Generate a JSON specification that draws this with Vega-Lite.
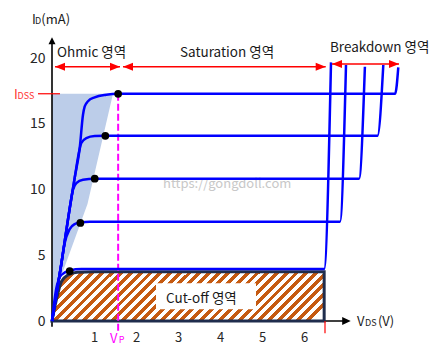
{
"$schema":"https://vega.github.io/schema/vega-lite/v6.json",
"width":378,"height":310,
"autosize":{"type":"none"},
"padding":{"left":52,"top":11,"right":18,"bottom":30},
"background":"#ffffff",
"config":{"view":{"stroke":null},"font":"Noto Sans CJK KR"},
"datasets":{
"hatch":[{"x":0,"y":17.3,"y2":0},{"x":0.143,"y":17.3,"y2":2.74},{"x":0.845,"y":17.3,"y2":8.9},{"x":1.452,"y":17.3,"y2":17.3}],
"cut":[{"x":0,"y":0},{"x":0.103,"y":1.6},{"x":0.222,"y":2.99},{"x":0.381,"y":3.5},{"x":0.6,"y":3.72},{"x":1.0,"y":3.75},{"x":6.48,"y":3.75}],
"box":[{"x":2.476,"x2":4.857,"y":2.87,"y2":0.89}],
"curves":[
{"s":"c1","x":0,"y":0},{"s":"c1","x":0.22,"y":4.3},{"s":"c1","x":0.42,"y":8.55},{"s":"c1","x":0.54,"y":10.89},{"s":"c1","x":0.66,"y":13.17},{"s":"c1","x":0.738,"y":15.7},{"s":"c1","x":0.779,"y":16.34},{"s":"c1","x":0.857,"y":16.73},{"s":"c1","x":1.017,"y":17.03},{"s":"c1","x":1.293,"y":17.23},{"s":"c1","x":1.575,"y":17.3},{"s":"c1","x":8.17,"y":17.3},{"s":"c1","x":8.245,"y":19.31},
{"s":"c2","x":0,"y":0},{"s":"c2","x":0.22,"y":4.3},{"s":"c2","x":0.42,"y":8.55},{"s":"c2","x":0.54,"y":10.89},{"s":"c2","x":0.64,"y":12.8},{"s":"c2","x":0.698,"y":13.55},{"s":"c2","x":0.817,"y":13.93},{"s":"c2","x":1.017,"y":14.08},{"s":"c2","x":1.27,"y":14.1},{"s":"c2","x":7.75,"y":14.1},{"s":"c2","x":7.888,"y":19.49},
{"s":"c3","x":0,"y":0},{"s":"c3","x":0.22,"y":4.3},{"s":"c3","x":0.42,"y":8.55},{"s":"c3","x":0.5,"y":10.0},{"s":"c3","x":0.579,"y":10.5},{"s":"c3","x":0.738,"y":10.76},{"s":"c3","x":1.017,"y":10.83},{"s":"c3","x":7.31,"y":10.83},{"s":"c3","x":7.45,"y":19.36},
{"s":"c4","x":0,"y":0},{"s":"c4","x":0.22,"y":4.3},{"s":"c4","x":0.3,"y":5.9},{"s":"c4","x":0.421,"y":7.0},{"s":"c4","x":0.54,"y":7.38},{"s":"c4","x":0.675,"y":7.5},{"s":"c4","x":0.9,"y":7.56},{"s":"c4","x":6.857,"y":7.56},{"s":"c4","x":7.0,"y":19.49},
{"s":"c5","x":0,"y":0},{"s":"c5","x":0.103,"y":2.5},{"s":"c5","x":0.16,"y":3.15},{"s":"c5","x":0.222,"y":3.5},{"s":"c5","x":0.421,"y":3.85},{"s":"c5","x":0.7,"y":3.96},{"s":"c5","x":6.48,"y":3.96},{"s":"c5","x":6.643,"y":19.69}
],
"dots":[{"x":1.575,"y":17.3},{"x":1.27,"y":14.1},{"x":1.017,"y":10.83},{"x":0.675,"y":7.47},{"x":0.421,"y":3.8}],
"rules":[
{"g":"axis","x":0,"y":-0.43,"x2":0,"y2":21.2},
{"g":"axis","x":0,"y":0,"x2":7.0,"y2":0},
{"g":"red","x":0.071,"y":19.36,"x2":1.619,"y2":19.36},
{"g":"red","x":1.69,"y":19.36,"x2":6.517,"y2":19.36},
{"g":"red","x":6.667,"y":19.56,"x2":8.262,"y2":19.56},
{"g":"thin","x":-0.333,"y":17.3,"x2":0.19,"y2":17.3},
{"g":"thin","x":6.5,"y":0,"x2":6.5,"y2":-0.94},
{"g":"vp","x":1.575,"y":17.3,"x2":1.575,"y2":-0.9}
],
"heads":[
{"g":"L","x":0.071,"y":19.36},{"g":"R","x":1.619,"y":19.36},{"g":"L","x":1.69,"y":19.36},{"g":"R","x":6.517,"y":19.36},{"g":"L","x":6.667,"y":19.56},{"g":"R","x":8.262,"y":19.56},{"g":"U","x":0,"y":21.6},{"g":"K","x":7.112,"y":0}
],
"texts":[
{"g":"lab","c":"k","t":"Ohmic  영역","x":0.119,"y":20.12},
{"g":"lab","c":"k","t":"Saturation 영역","x":3.048,"y":20.12},
{"g":"lab","c":"k","t":"Breakdown 영역","x":6.619,"y":20.46},
{"g":"lab","c":"k","t":"Cut-off 영역","x":2.714,"y":1.35},
{"g":"big","c":"k","t":"I","x":-0.476,"y":22.61},
{"g":"sub","c":"k","t":"D","x":-0.405,"y":22.61},
{"g":"big","c":"k","t":"(mA)","x":-0.255,"y":22.61},
{"g":"big","c":"k","t":"V","x":7.262,"y":-0.38},
{"g":"sub","c":"k","t":"DS","x":7.455,"y":-0.38},
{"g":"big","c":"k","t":"(V)","x":7.76,"y":-0.38},
{"g":"big","c":"r","t":"I","x":-0.905,"y":16.88},
{"g":"sub","c":"r","t":"DSS","x":-0.82,"y":16.88},
{"g":"big","c":"m","t":"V","x":1.381,"y":-1.7},
{"g":"sub","c":"m","t":"P","x":1.59,"y":-1.7},
{"g":"wm","c":"w","t":"https://gongdoll.com","x":2.643,"y":10.1}
]
},
"encoding":{
"x":{"field":"x","type":"quantitative","scale":{"domain":[0,9],"nice":false,"zero":false},"axis":{"values":[1,2,3,4,5,6],"domain":false,"ticks":false,"tickSize":0,"grid":false,"title":null,"labelFont":"Noto Sans CJK KR","labelFontSize":13,"labelColor":"#262626","labelPadding":10}},
"y":{"field":"y","type":"quantitative","scale":{"domain":[0,23.6],"nice":false,"zero":false},"axis":{"values":[0,5,10,15,20],"domain":false,"ticks":false,"tickSize":0,"grid":false,"title":null,"labelFont":"Noto Sans CJK KR","labelFontSize":14,"labelColor":"#262626","labelPadding":7}}
},
"layer":[
{"data":{"name":"hatch"},"mark":{"type":"area","fill":"#bccde9","opacity":1},"encoding":{"y2":{"field":"y2"}}},
{"data":{"name":"rules"},"transform":[{"filter":"datum.g==='axis'"}],"mark":{"type":"rule","color":"#000000","strokeWidth":1.6},"encoding":{"x2":{"field":"x2"},"y2":{"field":"y2"}}},
{"data":{"name":"cut"},"mark":{"type":"area","interpolate":"monotone","stroke":"#1f2d4d","strokeWidth":3,"opacity":1,
"fill":{"gradient":"linear","x1":0,"y1":0,"x2":1.108,"y2":0.2008,"stops":[
{"offset":0,"color":"#c55a11"},{"offset":0.015625,"color":"#c55a11"},{"offset":0.015625,"color":"#ffffff"},{"offset":0.03125,"color":"#ffffff"},
{"offset":0.03125,"color":"#c55a11"},{"offset":0.046875,"color":"#c55a11"},{"offset":0.046875,"color":"#ffffff"},{"offset":0.0625,"color":"#ffffff"},
{"offset":0.0625,"color":"#c55a11"},{"offset":0.078125,"color":"#c55a11"},{"offset":0.078125,"color":"#ffffff"},{"offset":0.09375,"color":"#ffffff"},
{"offset":0.09375,"color":"#c55a11"},{"offset":0.109375,"color":"#c55a11"},{"offset":0.109375,"color":"#ffffff"},{"offset":0.125,"color":"#ffffff"},
{"offset":0.125,"color":"#c55a11"},{"offset":0.140625,"color":"#c55a11"},{"offset":0.140625,"color":"#ffffff"},{"offset":0.15625,"color":"#ffffff"},
{"offset":0.15625,"color":"#c55a11"},{"offset":0.171875,"color":"#c55a11"},{"offset":0.171875,"color":"#ffffff"},{"offset":0.1875,"color":"#ffffff"},
{"offset":0.1875,"color":"#c55a11"},{"offset":0.203125,"color":"#c55a11"},{"offset":0.203125,"color":"#ffffff"},{"offset":0.21875,"color":"#ffffff"},
{"offset":0.21875,"color":"#c55a11"},{"offset":0.234375,"color":"#c55a11"},{"offset":0.234375,"color":"#ffffff"},{"offset":0.25,"color":"#ffffff"},
{"offset":0.25,"color":"#c55a11"},{"offset":0.265625,"color":"#c55a11"},{"offset":0.265625,"color":"#ffffff"},{"offset":0.28125,"color":"#ffffff"},
{"offset":0.28125,"color":"#c55a11"},{"offset":0.296875,"color":"#c55a11"},{"offset":0.296875,"color":"#ffffff"},{"offset":0.3125,"color":"#ffffff"},
{"offset":0.3125,"color":"#c55a11"},{"offset":0.328125,"color":"#c55a11"},{"offset":0.328125,"color":"#ffffff"},{"offset":0.34375,"color":"#ffffff"},
{"offset":0.34375,"color":"#c55a11"},{"offset":0.359375,"color":"#c55a11"},{"offset":0.359375,"color":"#ffffff"},{"offset":0.375,"color":"#ffffff"},
{"offset":0.375,"color":"#c55a11"},{"offset":0.390625,"color":"#c55a11"},{"offset":0.390625,"color":"#ffffff"},{"offset":0.40625,"color":"#ffffff"},
{"offset":0.40625,"color":"#c55a11"},{"offset":0.421875,"color":"#c55a11"},{"offset":0.421875,"color":"#ffffff"},{"offset":0.4375,"color":"#ffffff"},
{"offset":0.4375,"color":"#c55a11"},{"offset":0.453125,"color":"#c55a11"},{"offset":0.453125,"color":"#ffffff"},{"offset":0.46875,"color":"#ffffff"},
{"offset":0.46875,"color":"#c55a11"},{"offset":0.484375,"color":"#c55a11"},{"offset":0.484375,"color":"#ffffff"},{"offset":0.5,"color":"#ffffff"},
{"offset":0.5,"color":"#c55a11"},{"offset":0.515625,"color":"#c55a11"},{"offset":0.515625,"color":"#ffffff"},{"offset":0.53125,"color":"#ffffff"},
{"offset":0.53125,"color":"#c55a11"},{"offset":0.546875,"color":"#c55a11"},{"offset":0.546875,"color":"#ffffff"},{"offset":0.5625,"color":"#ffffff"},
{"offset":0.5625,"color":"#c55a11"},{"offset":0.578125,"color":"#c55a11"},{"offset":0.578125,"color":"#ffffff"},{"offset":0.59375,"color":"#ffffff"},
{"offset":0.59375,"color":"#c55a11"},{"offset":0.609375,"color":"#c55a11"},{"offset":0.609375,"color":"#ffffff"},{"offset":0.625,"color":"#ffffff"},
{"offset":0.625,"color":"#c55a11"},{"offset":0.640625,"color":"#c55a11"},{"offset":0.640625,"color":"#ffffff"},{"offset":0.65625,"color":"#ffffff"},
{"offset":0.65625,"color":"#c55a11"},{"offset":0.671875,"color":"#c55a11"},{"offset":0.671875,"color":"#ffffff"},{"offset":0.6875,"color":"#ffffff"},
{"offset":0.6875,"color":"#c55a11"},{"offset":0.703125,"color":"#c55a11"},{"offset":0.703125,"color":"#ffffff"},{"offset":0.71875,"color":"#ffffff"},
{"offset":0.71875,"color":"#c55a11"},{"offset":0.734375,"color":"#c55a11"},{"offset":0.734375,"color":"#ffffff"},{"offset":0.75,"color":"#ffffff"},
{"offset":0.75,"color":"#c55a11"},{"offset":0.765625,"color":"#c55a11"},{"offset":0.765625,"color":"#ffffff"},{"offset":0.78125,"color":"#ffffff"},
{"offset":0.78125,"color":"#c55a11"},{"offset":0.796875,"color":"#c55a11"},{"offset":0.796875,"color":"#ffffff"},{"offset":0.8125,"color":"#ffffff"},
{"offset":0.8125,"color":"#c55a11"},{"offset":0.828125,"color":"#c55a11"},{"offset":0.828125,"color":"#ffffff"},{"offset":0.84375,"color":"#ffffff"},
{"offset":0.84375,"color":"#c55a11"},{"offset":0.859375,"color":"#c55a11"},{"offset":0.859375,"color":"#ffffff"},{"offset":0.875,"color":"#ffffff"},
{"offset":0.875,"color":"#c55a11"},{"offset":0.890625,"color":"#c55a11"},{"offset":0.890625,"color":"#ffffff"},{"offset":0.90625,"color":"#ffffff"},
{"offset":0.90625,"color":"#c55a11"},{"offset":0.921875,"color":"#c55a11"},{"offset":0.921875,"color":"#ffffff"},{"offset":0.9375,"color":"#ffffff"},
{"offset":0.9375,"color":"#c55a11"},{"offset":0.953125,"color":"#c55a11"},{"offset":0.953125,"color":"#ffffff"},{"offset":0.96875,"color":"#ffffff"},
{"offset":0.96875,"color":"#c55a11"},{"offset":0.984375,"color":"#c55a11"},{"offset":0.984375,"color":"#ffffff"},{"offset":1,"color":"#ffffff"}
]}},"encoding":{"y2":{"datum":0}}},
{"data":{"name":"box"},"mark":{"type":"rect","fill":"#ffffff"},"encoding":{"x2":{"field":"x2"},"y2":{"field":"y2"}}},
{"data":{"name":"texts"},"transform":[{"filter":"datum.g==='wm'"}],"mark":{"type":"text","align":"left","baseline":"alphabetic","fontSize":13,"font":"Noto Sans CJK KR"},"encoding":{"text":{"field":"t"},"color":{"field":"c","type":"nominal","scale":{"domain":["k","r","m","w"],"range":["#1a1a1a","#ff3333","#ff00ff","#c8c8c8"]},"legend":null}}},
{"data":{"name":"rules"},"transform":[{"filter":"datum.g==='vp'"}],"mark":{"type":"rule","color":"#ff00ff","strokeWidth":2,"strokeDash":[7,3]},"encoding":{"x2":{"field":"x2"},"y2":{"field":"y2"}}},
{"data":{"name":"curves"},"mark":{"type":"line","color":"#0000ff","strokeWidth":2.5,"interpolate":"monotone"},"encoding":{"detail":{"field":"s"}}},
{"data":{"name":"dots"},"mark":{"type":"point","filled":true,"color":"#000000","size":60,"opacity":1}},
{"data":{"name":"rules"},"transform":[{"filter":"datum.g==='red'"}],"mark":{"type":"rule","color":"#ff0000","strokeWidth":1.6},"encoding":{"x2":{"field":"x2"},"y2":{"field":"y2"}}},
{"data":{"name":"rules"},"transform":[{"filter":"datum.g==='thin'"}],"mark":{"type":"rule","color":"#ff0000","strokeWidth":1.2},"encoding":{"x2":{"field":"x2"},"y2":{"field":"y2"}}},
{"data":{"name":"heads"},"transform":[{"filter":"datum.g==='L'"}],"mark":{"type":"point","shape":"M0,0L2,-0.8L2,0.8Z","filled":true,"color":"#ff0000","size":100,"opacity":1}},
{"data":{"name":"heads"},"transform":[{"filter":"datum.g==='R'"}],"mark":{"type":"point","shape":"M0,0L-2,-0.8L-2,0.8Z","filled":true,"color":"#ff0000","size":100,"opacity":1}},
{"data":{"name":"heads"},"transform":[{"filter":"datum.g==='U'"}],"mark":{"type":"point","shape":"M0,0L-0.7,1.4L0.7,1.4Z","filled":true,"color":"#000000","size":100,"opacity":1}},
{"data":{"name":"heads"},"transform":[{"filter":"datum.g==='K'"}],"mark":{"type":"point","shape":"M0,0L-1.7,-0.8L-1.7,0.8Z","filled":true,"color":"#000000","size":100,"opacity":1}},
{"data":{"name":"texts"},"transform":[{"filter":"datum.g==='lab'"}],"mark":{"type":"text","align":"left","baseline":"alphabetic","fontSize":13.5,"font":"Noto Sans CJK KR"},"encoding":{"text":{"field":"t"},"color":{"field":"c","type":"nominal","legend":null}}},
{"data":{"name":"texts"},"transform":[{"filter":"datum.g==='big'"}],"mark":{"type":"text","align":"left","baseline":"alphabetic","fontSize":13,"font":"Noto Sans CJK KR"},"encoding":{"text":{"field":"t"},"color":{"field":"c","type":"nominal","legend":null}}},
{"data":{"name":"texts"},"transform":[{"filter":"datum.g==='sub'"}],"mark":{"type":"text","align":"left","baseline":"alphabetic","fontSize":9,"font":"Noto Sans CJK KR"},"encoding":{"text":{"field":"t"},"color":{"field":"c","type":"nominal","legend":null}}}
]
}
